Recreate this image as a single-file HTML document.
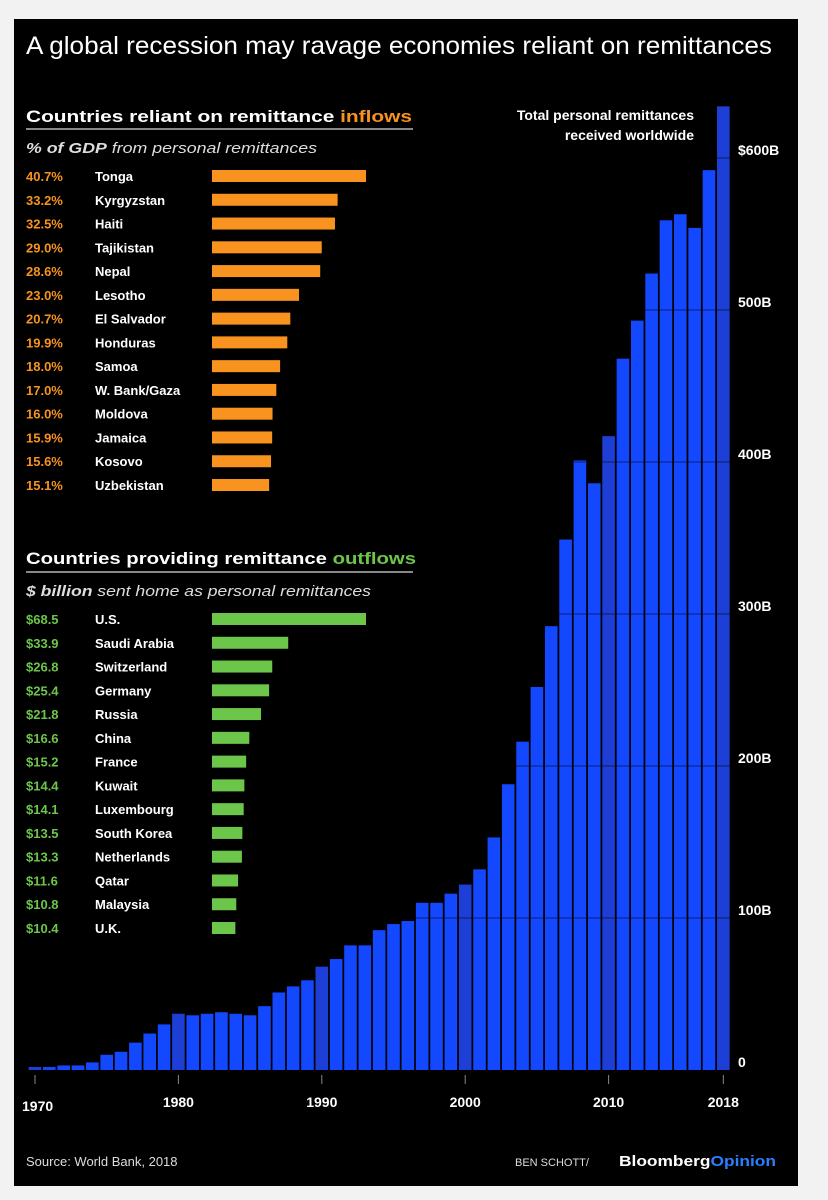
<!DOCTYPE html>
<html><head><meta charset="utf-8"><style>
html,body{margin:0;padding:0;background:#fff;width:828px;height:1200px;overflow:hidden}
svg{display:block;font-family:"Liberation Sans",sans-serif}
</style></head><body>
<svg id="c" width="828" height="1200" viewBox="0 0 828 1200">
<rect x="0" y="0" width="828" height="1200" fill="#f2f2f2"/>
<rect x="14" y="19" width="784" height="1167" fill="#000"/>
<text x="26" y="54" font-size="25" fill="#fff" textLength="746" lengthAdjust="spacingAndGlyphs">A global recession may ravage economies reliant on remittances</text>

<text x="26" y="122" font-size="17" font-weight="bold" fill="#fff" textLength="386" lengthAdjust="spacingAndGlyphs">Countries reliant on remittance <tspan fill="#f7931e">inflows</tspan></text>
<rect x="26" y="128" width="387" height="2" fill="#888"/>
<text x="26" y="153" font-size="15" font-style="italic" fill="#ddd" textLength="291" lengthAdjust="spacingAndGlyphs"><tspan font-weight="bold">% of GDP</tspan> from personal remittances</text>

<text x="26" y="564" font-size="17" font-weight="bold" fill="#fff" textLength="390" lengthAdjust="spacingAndGlyphs">Countries providing remittance <tspan fill="#6cc64a">outflows</tspan></text>
<rect x="26" y="571" width="387" height="2" fill="#888"/>
<text x="26" y="596" font-size="15" font-style="italic" fill="#ddd" textLength="345" lengthAdjust="spacingAndGlyphs"><tspan font-weight="bold">$ billion</tspan> sent home as personal remittances</text>

<text x="694" y="120" font-size="14" font-weight="bold" fill="#fff" text-anchor="end">Total personal remittances</text>
<text x="694" y="140" font-size="14" font-weight="bold" fill="#fff" text-anchor="end">received worldwide</text>

<g id="inflows"></g>
<g id="outflows"></g>
<g id="main"></g>

<text x="26" y="1166" font-size="13" fill="#ddd">Source: World Bank, 2018</text>
<text x="515" y="1166" font-size="11" fill="#ddd">BEN SCHOTT/</text>
<text x="619" y="1166" font-size="15" font-weight="bold" fill="#fff" textLength="157" lengthAdjust="spacingAndGlyphs">Bloomberg<tspan fill="#2a7fff">Opinion</tspan></text>
</svg>
<script>
const NS="http://www.w3.org/2000/svg";
const inCountries=["Tonga","Kyrgyzstan","Haiti","Tajikistan","Nepal","Lesotho","El Salvador","Honduras","Samoa","W. Bank/Gaza","Moldova","Jamaica","Kosovo","Uzbekistan"];
const inValues=[40.7,33.2,32.5,29.0,28.6,23.0,20.7,19.9,18.0,17.0,16.0,15.9,15.6,15.1];
const inLabels=["40.7%","33.2%","32.5%","29.0%","28.6%","23.0%","20.7%","19.9%","18.0%","17.0%","16.0%","15.9%","15.6%","15.1%"];
const outCountries=["U.S.","Saudi Arabia","Switzerland","Germany","Russia","China","France","Kuwait","Luxembourg","South Korea","Netherlands","Qatar","Malaysia","U.K."];
const outValues=[68.5,33.9,26.8,25.4,21.8,16.6,15.2,14.4,14.1,13.5,13.3,11.6,10.8,10.4];
const outLabels=["$68.5","$33.9","$26.8","$25.4","$21.8","$16.6","$15.2","$14.4","$14.1","$13.5","$13.3","$11.6","$10.8","$10.4"];
const years=[];for(let y=1970;y<=2018;y++)years.push(y);
const totals=[2,2,3,3,5,10,12,18,24,30,37,36,37,38,37,36,42,51,55,59,68,73,82,82,92,96,98,110,110,116,122,132,153,188,216,252,292,349,401,386,417,468,493,524,559,563,554,592,634];
const yTicks=[0,100,200,300,400,500,600];
const yTickLabels=["0","100B","200B","300B","400B","500B","$600B"];
const xTicks=[1970,1980,1990,2000,2010,2018];

function mk(tag,attrs,parent){const e=document.createElementNS(NS,tag);for(const k in attrs)e.setAttribute(k,attrs[k]);parent.appendChild(e);return e;}

function hbars(gid,names,vals,labels,y0,scale,color,prefix){
  const g=document.getElementById(gid);
  names.forEach((n,i)=>{
    const yc=y0+i*23.77;
    const t=mk("text",{x:26,y:yc+5,"font-size":13,"font-weight":"bold",fill:color},g);
    t.textContent=labels[i];
    
    
    const nm=mk("text",{x:95,y:yc+5,"font-size":13,"font-weight":"bold",fill:"#fff"},g);
    nm.textContent=n;
    
    
    const r=mk("rect",{x:212,y:yc-6,width:vals[i]*scale,height:12,fill:color},g);
    
    
  });
}
hbars("inflows",inCountries,inValues,inLabels,176,154/40.7,"#f7931e","inflow");
hbars("outflows",outCountries,outValues,outLabels,619,154/68.5,"#6cc64a","outflow");

const g=document.getElementById("main");
const yS=v=>1070-v*1.52;
const xS=yr=>35+(yr-1970)*14.34;
years.forEach((yr,i)=>{
  const top=yS(totals[i]);
  const dark=(yr%10===0||yr===2018);
  const r=mk("rect",{x:xS(yr)-6.3,y:top,width:12.6,height:1070-top,fill:dark?"#1d3fd6":"#1448ff"},g);
  
  
});
yTicks.forEach((v,i)=>{
  if(v>0){
    const l=mk("line",{x1:400,x2:730,y1:yS(v),y2:yS(v),stroke:"#000","stroke-opacity":0.55,"stroke-width":1},g);
    
    
  }
  const t=mk("text",{x:738,y:yS(v)-3,"font-size":14,"font-weight":"bold",fill:"#fff"},g);
  t.textContent=yTickLabels[i];
  
  
});
xTicks.forEach(yr=>{
  const l=mk("line",{x1:xS(yr),x2:xS(yr),y1:1075,y2:1084,stroke:"#888","stroke-width":1},g);
  
  
  const t=mk("text",{x:yr===1970?22:xS(yr),y:yr===1970?1111:1107,"font-size":14,"font-weight":"bold",fill:"#fff","text-anchor":yr===1970?"start":"middle"},g);
  t.textContent=yr;
  
  
});
</script>
</body></html>
